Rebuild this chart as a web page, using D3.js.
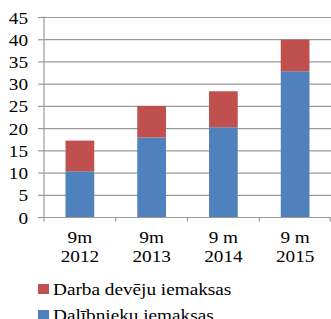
<!DOCTYPE html>
<html>
<head>
<meta charset="utf-8">
<script src="https://cdn.jsdelivr.net/npm/d3@7"></script>
<style>
  body { margin: 0; background: #fff; }
</style>
</head>
<body>
<div id="chart"></div>
<script>
const periods = ["9m|2012", "9m|2013", "9 m|2014", "9 m|2015"];
const dalibnieku = [10.4, 18.0, 20.3, 32.9];   // blue, bottom
const darbaDeveju = [6.9, 7.1, 8.1, 7.1];       // red, on top
const seriesNames = ["Darba devēju iemaksas", "Dalībnieku iemaksas"];
const seriesColors = ["#C0504D", "#4F81BD"];
const yTicks = [0, 5, 10, 15, 20, 25, 30, 35, 40, 45];

const width = 331, height = 319;
const plotL = 44, plotR = 331, plotT = 17.5, plotB = 217.5;
const fontSize = 17.5;
const serif = "Liberation Serif";
const stretch = 1.1; // the original text looks a little wider than the font

const svg = d3.select("#chart").append("svg")
  .attr("width", width)
  .attr("height", height);

const x = d3.scaleBand().domain(periods).range([plotL, plotR]).paddingInner(0.6).paddingOuter(0.3);
const xb = d3.scaleBand().domain(periods).range([plotL, plotR]);
const y = d3.scaleLinear().domain([0, 45]).range([plotB, plotT]);

// gridlines
svg.append("g")
  .selectAll("line")
  .data(yTicks.slice(1))
  .join("line")
  .attr("x1", plotL).attr("x2", plotR)
  .attr("y1", d => y(d)).attr("y2", d => y(d))
  .attr("stroke", "#9a9a9a")
  .attr("stroke-width", 1.2);

// stacked bars
const rows = periods.map((p, i) => ({ p, blue: dalibnieku[i], red: darbaDeveju[i] }));
const stack = d3.stack().keys(["blue", "red"])(rows);
svg.append("g")
  .selectAll("g")
  .data(stack)
  .join("g")
  .attr("fill", d => d.key === "blue" ? seriesColors[1] : seriesColors[0])
  .selectAll("rect")
  .data(d => d)
  .join("rect")
  .attr("x", d => x(d.data.p))
  .attr("width", x.bandwidth())
  .attr("y", d => y(d[1]))
  .attr("height", d => y(d[0]) - y(d[1]));

// y axis
const ya = svg.append("g");
ya.append("line")
  .attr("x1", plotL).attr("x2", plotL)
  .attr("y1", plotT - 1).attr("y2", plotB)
  .attr("stroke", "#9a9a9a").attr("stroke-width", 1.2);
ya.selectAll("line.t")
  .data(yTicks)
  .join("line").attr("class", "t")
  .attr("x1", plotL - 6).attr("x2", plotL)
  .attr("y1", d => y(d)).attr("y2", d => y(d))
  .attr("stroke", "#9a9a9a").attr("stroke-width", 1.2);
ya.selectAll("text")
  .data(yTicks)
  .join("text")
  .attr("transform", d => `translate(28,${y(d) + 6}) scale(${stretch},1)`)
  .attr("text-anchor", "end")
  .attr("font-family", serif)
  .attr("font-size", fontSize)
  .text(d => d);

// x axis
const xa = svg.append("g");
xa.append("line")
  .attr("x1", plotL).attr("x2", plotR)
  .attr("y1", plotB).attr("y2", plotB)
  .attr("stroke", "#9a9a9a").attr("stroke-width", 1.2);
xa.selectAll("line.t")
  .data(periods.map(p => xb(p)).concat([plotR - 1]))
  .join("line").attr("class", "t")
  .attr("x1", d => d).attr("x2", d => d)
  .attr("y1", plotB).attr("y2", plotB + 4)
  .attr("stroke", "#9a9a9a").attr("stroke-width", 1.2);
const lbl = xa.selectAll("text")
  .data(periods)
  .join("text")
  .attr("transform", d => `translate(${xb(d) + xb.bandwidth() / 2},0) scale(${stretch},1)`)
  .attr("text-anchor", "middle")
  .attr("font-family", serif)
  .attr("font-size", fontSize);
lbl.append("tspan")
  .attr("x", 0).attr("y", 243)
  .text(d => d.split("|")[0]);
lbl.append("tspan")
  .attr("x", 0).attr("y", 262)
  .text(d => d.split("|")[1]);

// legend
const lg = svg.append("g")
  .selectAll("g")
  .data(seriesNames)
  .join("g")
  .attr("transform", (d, i) => `translate(38,${284 + i * 26})`);
lg.append("rect")
  .attr("width", 11).attr("height", 10)
  .attr("fill", (d, i) => seriesColors[i]);
lg.append("text")
  .attr("transform", `translate(15,10.5) scale(${stretch},1)`)
  .attr("font-family", serif)
  .attr("font-size", fontSize)
  .text(d => d);
</script>
</body>
</html>
